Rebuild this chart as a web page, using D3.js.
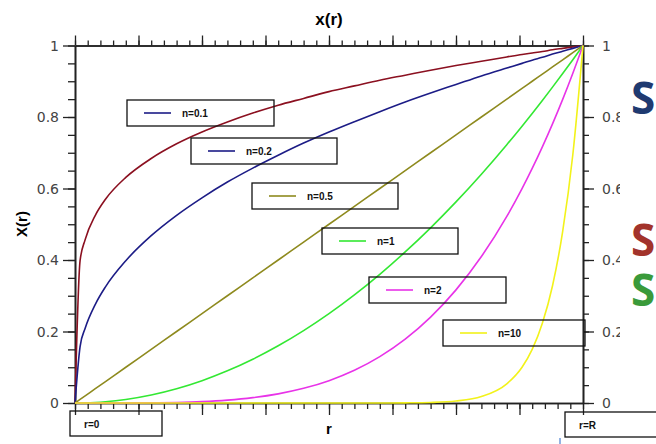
<!DOCTYPE html>
<html>
<head>
<meta charset="utf-8">
<script src="https://cdn.jsdelivr.net/npm/d3@7"></script>
<style>
  body { margin: 0; background: #fff; }
  svg { display: block; }
  .tickLabel { font-family: "DejaVu Sans", sans-serif; font-size: 14px; fill: #444; }
  .boxText { font-family: "Liberation Sans", Arial, sans-serif; font-size: 10px; font-weight: bold; fill: #111; }
</style>
</head>
<body>
<script>
// Data
var rValues = [0, 0.01, 0.02, 0.04, 0.06, 0.1, 0.15, 0.2, 0.25, 0.3, 0.35, 0.4, 0.45, 0.5, 0.55, 0.6, 0.65, 0.7, 0.75, 0.8, 0.85, 0.88, 0.9, 0.92, 0.94, 0.96, 0.98, 1];
var redCurve = [0, 0.398, 0.457, 0.525, 0.570, 0.631, 0.684, 0.725, 0.758, 0.786, 0.811, 0.833, 0.852, 0.871, 0.887, 0.903, 0.917, 0.931, 0.944, 0.956, 0.968, 0.975, 0.979, 0.983, 0.988, 0.992, 0.996, 1];
var blueCurve = [0, 0.158, 0.209, 0.276, 0.325, 0.398, 0.468, 0.525, 0.574, 0.618, 0.657, 0.693, 0.727, 0.758, 0.787, 0.815, 0.842, 0.867, 0.891, 0.915, 0.937, 0.950, 0.959, 0.967, 0.976, 0.984, 0.992, 1];
var oliveCurve = [0, 0.01, 0.02, 0.04, 0.06, 0.1, 0.15, 0.2, 0.25, 0.3, 0.35, 0.4, 0.45, 0.5, 0.55, 0.6, 0.65, 0.7, 0.75, 0.8, 0.85, 0.88, 0.9, 0.92, 0.94, 0.96, 0.98, 1];
var greenCurve = [0, 0.0001, 0.0004, 0.0016, 0.0036, 0.01, 0.0225, 0.04, 0.0625, 0.09, 0.1225, 0.16, 0.2025, 0.25, 0.3025, 0.36, 0.4225, 0.49, 0.5625, 0.64, 0.7225, 0.7744, 0.81, 0.8464, 0.8836, 0.9216, 0.9604, 1];
var magentaCurve = [0, 0, 0, 0, 0, 0.0001, 0.0005, 0.0016, 0.0039, 0.0081, 0.015, 0.0256, 0.041, 0.0625, 0.0915, 0.1296, 0.1785, 0.2401, 0.3164, 0.4096, 0.522, 0.5997, 0.6561, 0.7164, 0.7807, 0.8493, 0.9224, 1];
var yellowCurve = [0, 0, 0, 0, 0, 0, 0, 0, 0, 0, 0, 0, 0, 0, 0, 0, 0.0004, 0.0016, 0.0056, 0.018, 0.0537, 0.100, 0.150, 0.223, 0.328, 0.480, 0.695, 1];

var legendLabels = ["n=0.1", "n=0.2", "n=0.5", "n=1", "n=2", "n=10"];
var legendColors = ["#1c1c86", "#1c1c86", "#8e8a1e", "#33e833", "#e833e8", "#f2f21a"];
var yTickLabels = ["0", "0.2", "0.4", "0.6", "0.8", "1"];
var endLabels = ["r=0", "r=R"];

var series = [
    { values: redCurve, color: "#8b1020" },
    { values: blueCurve, color: "#1c1c86" },
    { values: oliveCurve, color: "#8e8a1e" },
    { values: greenCurve, color: "#33e833" },
    { values: magentaCurve, color: "#e833e8" },
    { values: yellowCurve, color: "#f2f21a" }
];

// Layout
var width = 656, height = 444;
var plotLeft = 75, plotRight = 583, plotTop = 45.5, plotBottom = 403;
var boxH = 26;
var legendPos = [[127, 100, 147], [191, 138, 146], [252, 183, 146], [322, 228, 136], [369, 277, 137], [443, 320, 142]];
var endPos = [[70, 411], [565, 412]];

var svg = d3.select("body").append("svg")
    .attr("width", width)
    .attr("height", height);

var x = d3.scaleLinear().domain([0, 1]).range([plotLeft, plotRight]);
var y = d3.scaleLinear().domain([0, 1]).range([plotBottom, plotTop]);

var xMinor = d3.range(0, 41).map(function (i) { return i / 40; });
var xMajor = d3.range(0, 9).map(function (i) { return i / 8; });
var yMinor = d3.range(0, 21).map(function (i) { return i / 20; });
var yMajor = yTickLabels.map(function (t) { return +t; });

function styleAxis(g) {
    g.selectAll("path").attr("stroke", "#222").attr("stroke-width", 1.6);
    g.selectAll("line").attr("stroke", "#222").attr("stroke-width", 1.3);
    g.selectAll("text").remove();
}

//Axes: minor then major ticks, on all four sides
[[d3.axisBottom(x), "translate(0," + plotBottom + ")", xMinor, xMajor, 6, 12],
 [d3.axisTop(x), "translate(0," + plotTop + ")", xMinor, xMajor, 5, 10],
 [d3.axisLeft(y), "translate(" + plotLeft + ",0)", yMinor, yMajor, 7, 12],
 [d3.axisRight(y), "translate(" + plotRight + ",0)", yMinor, yMajor, 6, 11]].forEach(function (a) {
    svg.append("g").attr("transform", a[1])
        .call(a[0].tickValues(a[2]).tickSize(a[4]).tickSizeOuter(0).tickFormat(""))
        .call(styleAxis);
    svg.append("g").attr("transform", a[1])
        .call(a[0].tickValues(a[3]).tickSize(a[5]).tickSizeOuter(0).tickFormat(""))
        .call(styleAxis);
});

//Curves
var line = d3.line()
    .x(function (d) { return x(d[0]); })
    .y(function (d) { return y(d[1]); })
    .curve(d3.curveMonotoneX);

svg.append("g").selectAll("path")
    .data(series)
    .join("path")
    .attr("fill", "none")
    .attr("stroke", function (d) { return d.color; })
    .attr("stroke-width", 1.6)
    .attr("d", function (d) {
        return line(rValues.map(function (r, i) { return [r, d.values[i]]; }));
    });

//Y tick labels, both sides
svg.append("g").selectAll("text")
    .data(yTickLabels)
    .join("text")
    .attr("class", "tickLabel")
    .attr("x", 59)
    .attr("y", function (d) { return y(+d); })
    .attr("dy", "0.36em")
    .attr("text-anchor", "end")
    .text(function (d) { return d; });

svg.append("g").selectAll("text")
    .data(yTickLabels)
    .join("text")
    .attr("class", "tickLabel")
    .attr("x", 602)
    .attr("y", function (d) { return y(+d); })
    .attr("dy", "0.36em")
    .text(function (d) { return d; });

//Legend boxes (no fill, curves show through)
var leg = svg.append("g").selectAll("g")
    .data(legendLabels)
    .join("g")
    .attr("transform", function (d, i) { return "translate(" + legendPos[i][0] + "," + legendPos[i][1] + ")"; });
leg.append("rect")
    .attr("width", function (d, i) { return legendPos[i][2]; }).attr("height", boxH)
    .attr("fill", "none").attr("stroke", "#111").attr("stroke-width", 1.3);
leg.append("line")
    .attr("x1", 17).attr("x2", 44)
    .attr("y1", boxH / 2).attr("y2", boxH / 2)
    .attr("stroke", function (d, i) { return legendColors[i]; })
    .attr("stroke-width", 1.6);
leg.append("text")
    .attr("class", "boxText")
    .attr("x", 55).attr("y", boxH / 2)
    .attr("dy", "0.36em")
    .text(function (d) { return d; });

//r=0 / r=R boxes
var ends = svg.append("g").selectAll("g")
    .data(endLabels)
    .join("g")
    .attr("transform", function (d, i) { return "translate(" + endPos[i][0] + "," + endPos[i][1] + ")"; });
ends.append("rect")
    .attr("width", 92).attr("height", 25)
    .attr("fill", "none").attr("stroke", "#111").attr("stroke-width", 1.3);
ends.append("text")
    .attr("class", "boxText")
    .attr("x", 14).attr("y", 13)
    .attr("dy", "0.36em")
    .text(function (d) { return d; });

//Titles
svg.append("text")
    .attr("x", 329).attr("y", 25)
    .attr("text-anchor", "middle")
    .style("font", "bold 17px 'Liberation Sans', Arial, sans-serif")
    .text("x(r)");
svg.append("text")
    .attr("transform", "translate(27,224) rotate(-90)")
    .attr("text-anchor", "middle")
    .style("font", "bold 15px 'Liberation Sans', Arial, sans-serif")
    .text("X(r)");
svg.append("text")
    .attr("x", 329).attr("y", 434)
    .attr("text-anchor", "middle")
    .style("font", "bold 15px 'Liberation Sans', Arial, sans-serif")
    .text("r");

//Right edge: part of another picture cut in
svg.append("rect")
    .attr("x", 620).attr("y", 70).attr("width", 36).attr("height", 300)
    .attr("fill", "#fff");
[["S", 631, 114, "#1f3a70"], ["S", 631, 256, "#a2332b"], ["S", 631, 306, "#3a9a3a"]].forEach(function (s) {
    svg.append("text")
        .attr("x", s[1]).attr("y", s[2])
        .style("font", "bold 44px 'Open Sans', sans-serif")
        .attr("fill", s[3])
        .text(s[0]);
});
svg.append("line")
    .attr("x1", 560).attr("x2", 560).attr("y1", 438).attr("y2", 444)
    .attr("stroke", "#4a7fd0").attr("stroke-width", 1.2);
</script>
</body>
</html>
